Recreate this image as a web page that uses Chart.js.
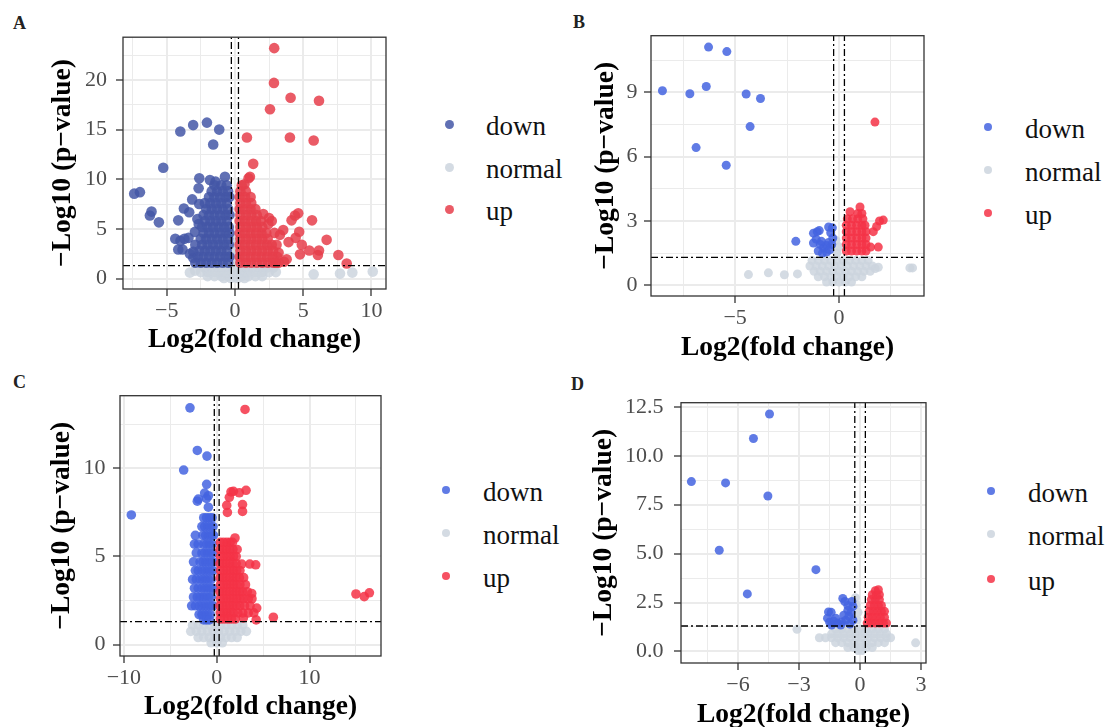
<!DOCTYPE html>
<html>
<head>
<meta charset="utf-8">
<script src="https://cdn.jsdelivr.net/npm/chart.js@4.4.1/dist/chart.umd.min.js"></script>
<style>
  body { margin: 0; width: 1108px; height: 727px; overflow: hidden; background: #fff; position: relative;
         font-family: 'Liberation Serif', 'Times New Roman', serif; }
  canvas { position: absolute; }
  .tag { position: absolute; font-size: 18px; line-height: 18px; font-weight: bold; color: #222; }
  .key { position: absolute; font-size: 27px; line-height: 27px; color: #111; white-space: nowrap; }
  .dot { position: absolute; border-radius: 50%; }
</style>
</head>
<body>
<canvas id="chartA"></canvas>
<canvas id="chartB"></canvas>
<canvas id="chartC"></canvas>
<canvas id="chartD"></canvas>
<script>
const serif = "'Liberation Serif', 'Times New Roman', serif";
const groupNames = ['down', 'normal', 'up'];
const pCut = 1.3;    // -log10(0.05)
const fcCut = 0.26;  // fold change cut-off lines

// ---------- panel A ----------
const downA = [
  [-2.05,15.7],[-3.06,15.45],[-4.0,14.8],[-1.15,15.0],[-1.59,13.5],[-5.25,11.15],[-7.38,8.55],[-6.96,8.7],
  [-6.23,6.35],[-6.11,6.74],[-5.57,5.66],[-4.15,5.86],[-4.37,4.0],[-4.15,2.93],[-3.84,2.93],[-3.99,3.8],
  [-3.7,4.0],[-3.4,4.1],[-3.74,7.06],[-3.35,6.67],[-3.13,7.97],[-2.61,10.09],[-2.66,9.1],[-1.83,9.92],
  [-1.42,9.76],[-0.73,10.25],[-2.62,7.5],[-2.93,4.7],[-3.05,2.7],[-2.75,6.0],[-2.65,5.5],[-3.05,2.1],
  [-3.3,2.5],[-2.9,3.4],
  [-2.9,1.6],[-2.5,1.6],[-2.1,1.6],[-1.7,1.6],[-1.3,1.6],[-0.9,1.6],[-0.5,1.6],
  [-2.7,2.2],[-2.3,2.2],[-1.9,2.2],[-1.5,2.2],[-1.1,2.2],[-0.7,2.2],[-0.4,2.2],
  [-2.6,2.8],[-2.2,2.8],[-1.8,2.8],[-1.4,2.8],[-1.0,2.8],[-0.6,2.8],
  [-2.4,3.4],[-2.0,3.4],[-1.6,3.4],[-1.2,3.4],[-0.8,3.4],[-0.45,3.4],
  [-2.5,4.0],[-2.1,4.0],[-1.7,4.0],[-1.3,4.0],[-0.9,4.0],[-0.5,4.0],
  [-2.3,4.6],[-1.9,4.6],[-1.5,4.6],[-1.1,4.6],[-0.7,4.6],[-0.4,4.6],
  [-2.4,5.2],[-2.0,5.2],[-1.6,5.2],[-1.2,5.2],[-0.8,5.2],[-0.45,5.2],
  [-2.2,5.8],[-1.8,5.8],[-1.4,5.8],[-1.0,5.8],[-0.6,5.8],
  [-2.3,6.4],[-1.9,6.4],[-1.5,6.4],[-1.1,6.4],[-0.7,6.4],[-0.4,6.4],
  [-2.1,7.0],[-1.7,7.0],[-1.3,7.0],[-0.9,7.0],[-0.5,7.0],
  [-2.2,7.6],[-1.8,7.6],[-1.4,7.6],[-1.0,7.6],[-0.6,7.6],
  [-1.9,8.2],[-1.5,8.2],[-1.1,8.2],[-0.7,8.2],[-0.4,8.2],
  [-1.7,8.8],[-1.3,8.8],[-0.9,8.8],[-0.5,8.8],
  [-1.5,9.4],[-1.0,9.4],[-0.6,9.4]
];
const normalA = [
  [-2.2,1.1],[-1.7,1.1],[-1.2,1.1],[-0.7,1.1],[-0.2,1.1],[0.3,1.1],[0.8,1.1],[1.3,1.1],[1.8,1.1],[2.3,1.1],[2.8,1.1],
  [-2.5,0.65],[-2.0,0.65],[-1.5,0.65],[-1.0,0.65],[-0.5,0.65],[0,0.65],[0.5,0.65],[1.0,0.65],[1.5,0.65],[2.0,0.65],[2.5,0.65],[3.0,0.65],
  [-2.0,0.25],[-1.5,0.25],[-1.0,0.25],[-0.5,0.25],[0,0.25],[0.5,0.25],[1.0,0.25],[1.5,0.25],[2.0,0.25],
  [-0.8,0.05],[-0.3,0.05],[0.2,0.05],[0.7,0.05],
  [-2.92,0.8],[-3.3,0.6],[5.77,0.43],[7.7,0.5],[8.6,0.6],[10.1,0.7],
  [-0.15,1.6],[-0.12,2.2],[-0.15,2.8],[-0.12,3.4],[-0.15,4.0]
];
const upA = [
  [2.88,23.2],[2.86,19.7],[4.08,18.2],[6.16,17.9],[2.57,17.05],[0.88,14.2],[4.03,14.2],[5.77,13.9],
  [1.34,11.55],[1.1,10.25],[1.0,10.1],[0.7,9.5],[2.08,6.5],[2.5,6.1],[2.7,5.8],[2.45,5.5],[3.54,4.88],
  [4.15,5.86],[4.4,6.35],[4.64,6.57],[5.65,5.86],[4.71,4.72],[4.45,4.1],[3.93,3.67],[4.9,3.4],[5.45,2.83],
  [6.16,2.83],[6.08,2.37],[6.72,3.9],[4.77,2.44],[3.79,1.95],[7.58,2.37],[8.19,1.52],[3.6,1.7],[3.2,2.6],
  [3.05,3.4],[3.3,4.4],[2.9,4.6],[3.0,1.6],
  [0.4,1.6],[0.8,1.6],[1.2,1.6],[1.6,1.6],[2.0,1.6],[2.4,1.6],[2.8,1.6],[3.2,1.6],
  [0.35,2.2],[0.75,2.2],[1.15,2.2],[1.55,2.2],[1.95,2.2],[2.35,2.2],[2.75,2.2],[3.1,2.2],
  [0.4,2.8],[0.8,2.8],[1.2,2.8],[1.6,2.8],[2.0,2.8],[2.4,2.8],[2.8,2.8],
  [0.35,3.4],[0.75,3.4],[1.15,3.4],[1.55,3.4],[1.95,3.4],[2.35,3.4],[2.7,3.4],
  [0.4,4.0],[0.8,4.0],[1.2,4.0],[1.6,4.0],[2.0,4.0],[2.4,4.0],
  [0.35,4.6],[0.75,4.6],[1.15,4.6],[1.55,4.6],[1.95,4.6],[2.3,4.6],
  [0.4,5.2],[0.8,5.2],[1.2,5.2],[1.6,5.2],[2.0,5.2],
  [0.35,5.8],[0.75,5.8],[1.15,5.8],[1.55,5.8],[1.9,5.8],
  [0.4,6.4],[0.8,6.4],[1.2,6.4],[1.6,6.4],
  [0.35,7.0],[0.75,7.0],[1.15,7.0],[1.5,7.0],
  [0.4,7.6],[0.8,7.6],[1.2,7.6],
  [0.35,8.2],[0.75,8.2],[1.15,8.2],
  [0.4,8.8],[0.8,8.8],
  [0.5,9.4]
];
const xRangeA = [-8.2, 11.07], yRangeA = [-1.05, 24.3];
const xMajorA = [-5, 0, 5, 10], xMinorA = [-7.5, -2.5, 2.5, 7.5], xLabelsA = ['−5', '0', '5', '10'];
const yMajorA = [0, 5, 10, 15, 20], yMinorA = [2.5, 7.5, 12.5, 17.5, 22.5], yLabelsA = ['0', '5', '10', '15', '20'];

// ---------- panel B ----------
const downB = [
  [-6.28,11.11],[-5.4,10.9],[-8.5,9.07],[-7.18,8.93],[-6.39,9.27],[-4.47,8.92],[-3.78,8.71],[-4.28,7.4],
  [-6.88,6.42],[-5.43,5.6],[-2.08,2.05],
  [-1.23,2.43],[-1.05,2.5],[-0.95,2.55],[-1.23,1.97],[-1.1,2.15],[-0.5,2.72],[-0.32,2.68],[-0.4,2.45],
  [-0.3,2.2],[-0.9,1.9],[-0.75,1.75],[-0.6,1.85],[-1.0,1.6],[-0.8,1.5],[-0.6,1.55],[-0.45,1.65],
  [-0.35,1.9],[-0.85,2.05],[-0.5,2.0]
];
const normalB = [
  [-1.3,1.15],[-1.0,1.15],[-0.7,1.15],[-0.4,1.15],[-0.1,1.15],[0.2,1.15],[0.5,1.15],[0.8,1.15],[1.1,1.15],[1.4,1.15],
  [-1.4,0.9],[-1.1,0.9],[-0.8,0.9],[-0.5,0.9],[-0.2,0.9],[0.1,0.9],[0.4,0.9],[0.7,0.9],[1.0,0.9],[1.3,0.9],[1.6,0.9],
  [-1.2,0.65],[-0.9,0.65],[-0.6,0.65],[-0.3,0.65],[0,0.65],[0.3,0.65],[0.6,0.65],[0.9,0.65],[1.2,0.65],[1.5,0.65],
  [-1.0,0.4],[-0.7,0.4],[-0.4,0.4],[-0.1,0.4],[0.2,0.4],[0.5,0.4],[0.8,0.4],[1.1,0.4],
  [-0.6,0.15],[-0.3,0.15],[0,0.15],[0.3,0.15],[0.6,0.15],
  [-4.36,0.5],[-3.4,0.58],[-2.63,0.49],[-2.0,0.53],[3.41,0.81],[3.54,0.81],[1.89,0.84],[1.74,0.78],
  [-0.1,1.5],[0.0,1.8],[-0.15,2.1]
];
const upB = [
  [1.73,7.61],[1.01,3.65],[0.53,3.43],[2.13,3.04],[1.95,3.0],[1.81,2.74],[1.65,2.5],[1.52,1.78],[1.89,1.78],
  [0.35,1.6],[0.6,1.6],[0.85,1.6],[1.1,1.6],[1.3,1.6],
  [0.35,1.9],[0.6,1.9],[0.85,1.9],[1.1,1.9],[1.3,1.9],
  [0.35,2.2],[0.6,2.2],[0.85,2.2],[1.1,2.2],[1.3,2.2],
  [0.35,2.5],[0.6,2.5],[0.85,2.5],[1.1,2.5],[1.3,2.5],
  [0.35,2.8],[0.6,2.8],[0.85,2.8],[1.1,2.8],[1.25,2.8],
  [0.4,3.1],[0.65,3.1],[0.9,3.1],[1.15,3.1],
  [0.9,3.35],[1.1,3.35]
];
const xRangeB = [-9.05, 4.09], yRangeB = [-0.5, 11.64];
const xMajorB = [-5, 0], xMinorB = [-7.5, -2.5, 2.5], xLabelsB = ['−5', '0'];
const yMajorB = [0, 3, 6, 9], yMinorB = [1.5, 4.5, 7.5, 10.5], yLabelsB = ['0', '3', '6', '9'];

// ---------- panel C ----------
const downC = [
  [-2.88,13.44],[-2.09,11.02],[-1.05,10.7],[-3.56,9.91],[-9.2,7.36],[-1.08,9.1],[-0.9,8.45],[-1.98,8.26],
  [-2.09,8.14],[-0.9,7.8],[-1.3,8.6],[-1.1,8.3],
  [-1.4,7.2],[-1.1,7.2],[-0.8,7.2],[-0.5,7.2],
  [-1.6,6.7],[-1.3,6.7],[-1.0,6.7],[-0.7,6.7],[-0.4,6.7],
  [-2.3,6.2],[-1.5,6.2],[-1.2,6.2],[-0.9,6.2],[-0.6,6.2],[-0.35,6.2],
  [-2.4,5.7],[-2.0,5.7],[-1.4,5.7],[-1.1,5.7],[-0.8,5.7],[-0.5,5.7],
  [-2.2,5.2],[-1.6,5.2],[-1.3,5.2],[-1.0,5.2],[-0.7,5.2],[-0.4,5.2],
  [-2.5,4.7],[-1.8,4.7],[-1.5,4.7],[-1.2,4.7],[-0.9,4.7],[-0.6,4.7],[-0.35,4.7],
  [-2.3,4.2],[-2.0,4.2],[-1.6,4.2],[-1.3,4.2],[-1.0,4.2],[-0.7,4.2],[-0.4,4.2],
  [-2.6,3.7],[-2.2,3.7],[-1.8,3.7],[-1.5,3.7],[-1.2,3.7],[-0.9,3.7],[-0.6,3.7],
  [-2.4,3.2],[-2.0,3.2],[-1.6,3.2],[-1.3,3.2],[-1.0,3.2],[-0.7,3.2],[-0.4,3.2],
  [-2.5,2.7],[-2.1,2.7],[-1.8,2.7],[-1.5,2.7],[-1.2,2.7],[-0.9,2.7],[-0.6,2.7],
  [-2.7,2.2],[-2.3,2.2],[-1.9,2.2],[-1.6,2.2],[-1.3,2.2],[-1.0,2.2],[-0.7,2.2],[-0.4,2.2],
  [-1.9,1.7],[-1.6,1.7],[-1.3,1.7],[-1.0,1.7],[-0.7,1.7],
  [-1.4,1.4],[-1.1,1.4],[-0.8,1.4]
];
const normalC = [
  [-2.6,1.1],[-2.0,1.1],[-1.4,1.1],[-0.8,1.1],[-0.2,1.1],[0.4,1.1],[1.0,1.1],[1.6,1.1],[2.2,1.1],[2.8,1.1],
  [-2.8,0.75],[-2.2,0.75],[-1.6,0.75],[-1.0,0.75],[-0.4,0.75],[0.2,0.75],[0.8,0.75],[1.4,0.75],[2.0,0.75],[2.6,0.75],[3.2,0.75],
  [-2.0,0.4],[-1.4,0.4],[-0.8,0.4],[-0.2,0.4],[0.4,0.4],[1.0,0.4],[1.6,0.4],[2.2,0.4],
  [-0.6,0.1],[0,0.1],[0.6,0.1],
  [-0.4,2.3],[-0.45,2.8],[-0.35,1.7]
];
const upC = [
  [3.05,13.35],[1.54,8.67],[2.44,8.62],[3.16,8.76],[1.36,8.36],[1.08,7.9],[1.15,7.5],[2.78,7.95],[2.78,7.56],
  [1.8,8.7],[15.0,2.87],[15.9,2.72],[16.45,2.94],[6.1,1.55],[1.97,6.05],[3.56,4.57],[4.2,4.53],[2.7,4.57],
  [3.77,2.9],[4.31,2.07],[2.87,1.51],[4.25,1.4],[3.8,2.6],
  [0.4,5.8],[0.75,5.8],[1.1,5.8],[1.45,5.8],[1.7,5.8],
  [0.35,5.4],[0.7,5.4],[1.05,5.4],[1.4,5.4],[1.75,5.4],[2.2,5.4],
  [0.4,5.0],[0.75,5.0],[1.1,5.0],[1.45,5.0],[1.8,5.0],[2.1,5.0],
  [0.35,4.6],[0.7,4.6],[1.05,4.6],[1.4,4.6],[1.75,4.6],[2.1,4.6],
  [0.4,4.2],[0.75,4.2],[1.1,4.2],[1.45,4.2],[1.8,4.2],[2.15,4.2],[2.5,4.2],
  [0.35,3.8],[0.7,3.8],[1.05,3.8],[1.4,3.8],[1.75,3.8],[2.1,3.8],[2.45,3.8],[2.9,3.8],
  [0.4,3.4],[0.75,3.4],[1.1,3.4],[1.45,3.4],[1.8,3.4],[2.15,3.4],[2.5,3.4],[3.1,3.4],
  [0.35,3.0],[0.7,3.0],[1.05,3.0],[1.4,3.0],[1.75,3.0],[2.1,3.0],[2.45,3.0],[2.8,3.0],[3.3,3.0],
  [0.4,2.6],[0.75,2.6],[1.1,2.6],[1.45,2.6],[1.8,2.6],[2.15,2.6],[2.5,2.6],[2.9,2.6],[3.4,2.6],
  [0.35,2.2],[0.7,2.2],[1.05,2.2],[1.4,2.2],[1.75,2.2],[2.1,2.2],[2.5,2.2],[3.0,2.2],[3.6,2.2],
  [0.4,1.8],[0.75,1.8],[1.1,1.8],[1.45,1.8],[1.8,1.8],[2.3,1.8],[2.8,1.8],[3.4,1.8],[4.0,1.8],
  [0.4,1.45],[0.8,1.45],[1.2,1.45],[1.6,1.45],[2.0,1.45]
];
const xRangeC = [-10.42, 17.7], yRangeC = [-0.65, 14.13];
const xMajorC = [-10, 0, 10], xMinorC = [-5, 5, 15], xLabelsC = ['−10', '0', '10'];
const yMajorC = [0, 5, 10], yMinorC = [2.5, 7.5, 12.5], yLabelsC = ['0', '5', '10'];

// ---------- panel D ----------
const downD = [
  [-4.45,12.13],[-5.24,10.88],[-8.29,8.68],[-6.61,8.61],[-4.53,7.94],[-6.92,5.17],[-2.17,4.18],[-5.54,2.94],
  [-0.85,2.71],[-0.75,2.55],[-1.55,2.02],[-1.42,2.0],[-1.6,1.7],[-1.5,1.5],[-1.3,1.55],[-1.1,1.45],
  [-0.9,1.5],[-0.7,1.6],[-0.55,1.8],[-0.45,2.0],[-0.35,2.3],[-0.4,2.55],[-0.6,2.1],[-1.2,1.7],
  [-0.8,1.85],[-0.95,1.35],[-0.5,1.4],[-0.35,1.6],[-1.4,1.35],[-0.6,2.35]
];
const normalD = [
  [-1.2,1.15],[-0.9,1.15],[-0.6,1.15],[-0.3,1.15],[0,1.15],[0.3,1.15],[0.6,1.15],[0.9,1.15],[1.2,1.15],
  [-1.4,0.9],[-1.1,0.9],[-0.8,0.9],[-0.5,0.9],[-0.2,0.9],[0.1,0.9],[0.4,0.9],[0.7,0.9],[1.0,0.9],[1.3,0.9],
  [-2.0,0.7],[-1.7,0.7],[-1.4,0.7],[-1.1,0.7],[-0.8,0.7],[-0.5,0.7],[-0.2,0.7],[0.1,0.7],[0.4,0.7],[0.7,0.7],[1.0,0.7],[1.3,0.7],[1.5,0.7],
  [-1.2,0.45],[-0.9,0.45],[-0.6,0.45],[-0.3,0.45],[0,0.45],[0.3,0.45],[0.6,0.45],[0.9,0.45],[1.2,0.45],
  [-0.6,0.2],[-0.3,0.2],[0,0.2],[0.3,0.2],[0.6,0.2],
  [-0.1,0.05],[0.1,0.05],
  [-3.1,1.13],[2.73,0.44],
  [-0.23,2.75],[-0.15,1.6],[-0.1,2.0],[-0.2,2.4]
];
const upD = [
  [0.35,1.45],[0.55,1.45],[0.75,1.45],[0.95,1.45],[1.15,1.45],[1.3,1.45],
  [0.4,1.75],[0.6,1.75],[0.8,1.75],[1.0,1.75],[1.2,1.75],
  [0.45,2.05],[0.65,2.05],[0.85,2.05],[1.05,2.05],[1.2,2.05],
  [0.5,2.35],[0.7,2.35],[0.9,2.35],[1.05,2.35],
  [0.55,2.65],[0.75,2.65],[0.95,2.65],
  [0.6,2.9],[0.8,2.9],[0.95,2.9],
  [0.75,3.1],[0.9,3.15]
];
const xRangeD = [-8.8, 3.24], yRangeD = [-0.59, 12.71];
const xMajorD = [-6, -3, 0, 3], xMinorD = [-7.5, -4.5, -1.5, 1.5], xLabelsD = ['−6', '−3', '0', '3'];
const yMajorD = [0, 2.5, 5, 7.5, 10, 12.5], yMinorD = [1.25, 3.75, 6.25, 8.75, 11.25],
      yLabelsD = ['0.0', '2.5', '5.0', '7.5', '10.0', '12.5'];

// colours (panel A uses a darker palette than B-D)
const coloursA = ['rgba(68, 87, 167, 0.85)', 'rgba(205, 213, 222, 0.85)', 'rgba(230, 62, 75, 0.85)'];
const coloursBCD = ['rgba(68, 100, 225, 0.85)', 'rgba(205, 213, 222, 0.85)', 'rgba(245, 50, 70, 0.85)'];

// where each panel sits on the page
const panels = [
  { id: 'chartA', tag: 'A', left: 49, top: 15, width: 347, height: 339, yAxisW: 74, xAxisH: 65, yPad: 9, radius: 5.3,
    tagPos: [13, 14], key: { x: 449, y: [124, 167, 209], textX: 486, size: 9 },
    down: downA, normal: normalA, up: upA, colours: coloursA, xRange: xRangeA, yRange: yRangeA,
    xMajor: xMajorA, xMinor: xMinorA, xLabels: xLabelsA, yMajor: yMajorA, yMinor: yMinorA, yLabels: yLabelsA },
  { id: 'chartB', tag: 'B', left: 592, top: 16, width: 342, height: 346, yAxisW: 59, xAxisH: 66, yPad: 6.5, radius: 4.5,
    tagPos: [573, 13], key: { x: 988, y: [127, 170, 213], textX: 1025, size: 8 },
    down: downB, normal: normalB, up: upB, colours: coloursBCD, xRange: xRangeB, yRange: yRangeB,
    xMajor: xMajorB, xMinor: xMinorB, xLabels: xLabelsB, yMajor: yMajorB, yMinor: yMinorB, yLabels: yLabelsB },
  { id: 'chartC', tag: 'C', left: 48, top: 375, width: 343, height: 346, yAxisW: 72, xAxisH: 65, yPad: 7.5, radius: 4.8,
    tagPos: [13, 373], key: { x: 446, y: [490, 533, 576], textX: 483, size: 8 },
    down: downC, normal: normalC, up: upC, colours: coloursBCD, xRange: xRangeC, yRange: yRangeC,
    xMajor: xMajorC, xMinor: xMinorC, xLabels: xLabelsC, yMajor: yMajorC, yMinor: yMinorC, yLabels: yLabelsC },
  { id: 'chartD', tag: 'D', left: 590, top: 379, width: 346, height: 350, yAxisW: 91, xAxisH: 66, yPad: 10.5, radius: 4.5,
    tagPos: [571, 375], key: { x: 991, y: [491, 534, 579], textX: 1028, size: 8 },
    down: downD, normal: normalD, up: upD, colours: coloursBCD, xRange: xRangeD, yRange: yRangeD,
    xMajor: xMajorD, xMinor: xMinorD, xLabels: xLabelsD, yMajor: yMajorD, yMinor: yMinorD, yLabels: yLabelsD }
];

// black frame round the plotting area, like theme_bw
const panelBorder = {
  id: 'panelBorder',
  afterDraw(chart) {
    const { ctx, chartArea: a } = chart;
    ctx.save();
    ctx.strokeStyle = '#333';
    ctx.lineWidth = 1.3;
    ctx.strokeRect(a.left, a.top, a.right - a.left, a.bottom - a.top);
    ctx.restore();
  }
};

function axis(range, majors, minors, labels, pad, title, fit) {
  const all = majors.concat(minors).sort((a, b) => a - b);
  const isMajor = c => c.tick && majors.includes(c.tick.value);
  return {
    type: 'linear', bounds: 'data', min: range[0], max: range[1],
    afterBuildTicks: s => { s.ticks = all.map(v => ({ value: v })); },
    afterFit: fit,
    ticks: {
      autoSkip: false, maxRotation: 0, padding: pad, color: '#4d4d4d',
      font: { family: serif, size: 22 },
      callback: v => { const i = majors.indexOf(v); return i < 0 ? '' : labels[i]; }
    },
    grid: {
      color: '#ebebeb',
      lineWidth: c => isMajor(c) ? 2 : 1,
      tickColor: c => isMajor(c) ? '#333' : 'rgba(0,0,0,0)',
      tickLength: 7, tickWidth: 1.3
    },
    border: { display: false },
    title: { display: true, text: title, color: '#000', padding: 0,
             font: { family: serif, size: 27.5, weight: 'bold', lineHeight: 1 } }
  };
}

function dots(points, colour, r, order) {
  return { data: points.map(p => ({ x: p[0], y: p[1] })), backgroundColor: colour, borderWidth: 0,
           pointRadius: r, pointHoverRadius: r, order: order };
}

function cutLine(points) {
  return { data: points, showLine: true, borderColor: '#000', borderWidth: 1.3, borderDash: [7, 3, 2, 3],
           pointRadius: 0, fill: false, order: 0 };
}

function makePanel(p) {
  const canvas = document.getElementById(p.id);
  canvas.width = p.width;
  canvas.height = p.height;
  canvas.style.left = p.left + 'px';
  canvas.style.top = p.top + 'px';

  new Chart(canvas.getContext('2d'), {
    type: 'scatter',
    data: {
      datasets: [
        cutLine([{ x: -fcCut, y: p.yRange[0] }, { x: -fcCut, y: p.yRange[1] }]),
        cutLine([{ x: fcCut, y: p.yRange[0] }, { x: fcCut, y: p.yRange[1] }]),
        cutLine([{ x: p.xRange[0], y: pCut }, { x: p.xRange[1], y: pCut }]),
        dots(p.up, p.colours[2], p.radius, 1),
        dots(p.down, p.colours[0], p.radius, 2),
        dots(p.normal, p.colours[1], p.radius, 3)
      ]
    },
    options: {
      responsive: false, animation: false, events: [],
      layout: { padding: { left: 0, top: 14, right: 10, bottom: 0 } },
      plugins: { legend: { display: false }, tooltip: { enabled: false } },
      scales: {
        x: axis(p.xRange, p.xMajor, p.xMinor, p.xLabels, 2.5, 'Log2(fold change)', s => { s.height = p.xAxisH; }),
        y: axis(p.yRange, p.yMajor, p.yMinor, p.yLabels, p.yPad, '−Log10 (p−value)', s => { s.width = p.yAxisW; })
      }
    },
    plugins: [panelBorder]
  });

  // panel letter
  const tag = document.createElement('div');
  tag.className = 'tag';
  tag.textContent = p.tag;
  tag.style.left = p.tagPos[0] + 'px';
  tag.style.top = p.tagPos[1] + 'px';
  document.body.appendChild(tag);

  // legend on the right
  groupNames.forEach((name, i) => {
    const d = document.createElement('div');
    d.className = 'dot';
    d.style.width = d.style.height = p.key.size + 'px';
    d.style.left = (p.key.x - p.key.size / 2) + 'px';
    d.style.top = (p.key.y[i] - p.key.size / 2) + 'px';
    d.style.background = p.colours[i];
    document.body.appendChild(d);

    const t = document.createElement('div');
    t.className = 'key';
    t.textContent = name;
    t.style.left = p.key.textX + 'px';
    t.style.top = (p.key.y[i] - 11) + 'px';
    document.body.appendChild(t);
  });
}

panels.forEach(makePanel);
</script>
</body>
</html>
